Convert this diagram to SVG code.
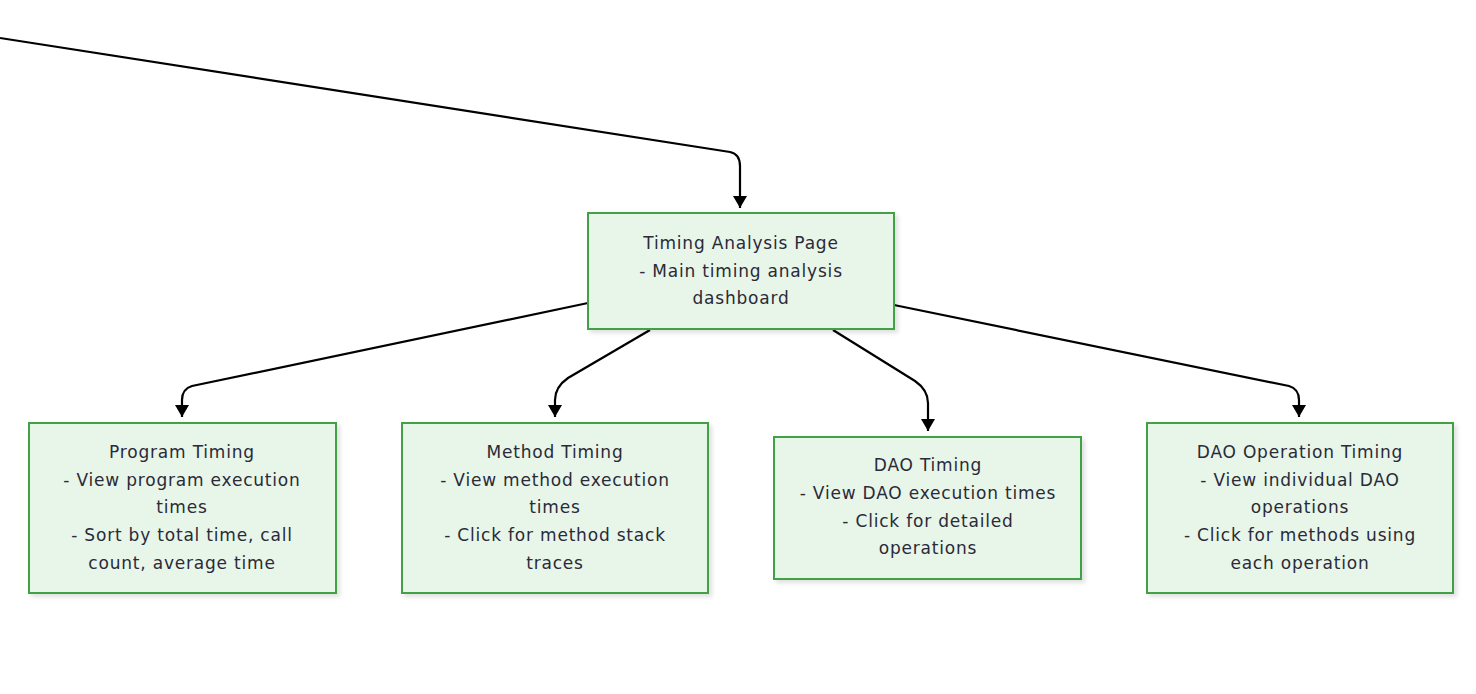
<svg xmlns="http://www.w3.org/2000/svg" width="1476" height="694" viewBox="0 0 1476 694">
<defs>
<style>
.box{fill:#e8f5e9;stroke:#43a047;stroke-width:2;filter:url(#sh)}
.t{font-family:"DejaVu Sans",sans-serif;font-size:17px;letter-spacing:0.8px;fill:#2a2a38;text-anchor:middle;dominant-baseline:central}
.e{fill:none;stroke:#000;stroke-width:2.2}
</style>
<filter id="sh" x="-10%" y="-10%" width="125%" height="130%">
<feDropShadow dx="3" dy="3" stdDeviation="2" flood-color="#000" flood-opacity="0.12"/>
</filter>
<marker id="ah" viewBox="0 0 12 14" refX="12" refY="7" markerWidth="12" markerHeight="14" markerUnits="userSpaceOnUse" orient="auto">
<path d="M0,0 L12,7 L0,14 z" fill="#000"/>
</marker>
</defs>
<rect width="1476" height="694" fill="#fff"/>
<g id="connectors">
<path class="e" marker-end="url(#ah)" d="M0,38 L730,152 Q740,154 740,166 L740,208"/>
<path class="e" marker-end="url(#ah)" d="M588,303 L192,386 Q182,389 182,400 L182,417"/>
<path class="e" marker-end="url(#ah)" d="M650,330 L568,378 Q555,387 555,400 L555,417"/>
<path class="e" marker-end="url(#ah)" d="M833,330 L915,381 Q928,390 928,403 L928,431"/>
<path class="e" marker-end="url(#ah)" d="M894,305 L1289,386 Q1299,389 1299,400 L1299,417"/>
</g>
<g id="main">
<rect class="box" x="588" y="213" width="306" height="116"/>
<text class="t" x="741" y="243">Timing Analysis Page</text>
<text class="t" x="741" y="271">- Main timing analysis</text>
<text class="t" x="741" y="298">dashboard</text>
</g>
<g id="program">
<rect class="box" x="29" y="423" width="307" height="170"/>
<text class="t" x="182" y="452">Program Timing</text>
<text class="t" x="182" y="480">- View program execution</text>
<text class="t" x="182" y="507">times</text>
<text class="t" x="182" y="535">- Sort by total time, call</text>
<text class="t" x="182" y="563">count, average time</text>
</g>
<g id="method">
<rect class="box" x="402" y="423" width="306" height="170"/>
<text class="t" x="555" y="452">Method Timing</text>
<text class="t" x="555" y="480">- View method execution</text>
<text class="t" x="555" y="507">times</text>
<text class="t" x="555" y="535">- Click for method stack</text>
<text class="t" x="555" y="563">traces</text>
</g>
<g id="dao">
<rect class="box" x="774" y="437" width="307" height="142"/>
<text class="t" x="928" y="465">DAO Timing</text>
<text class="t" x="928" y="493">- View DAO execution times</text>
<text class="t" x="928" y="521">- Click for detailed</text>
<text class="t" x="928" y="548">operations</text>
</g>
<g id="daoop">
<rect class="box" x="1147" y="423" width="306" height="170"/>
<text class="t" x="1300" y="452">DAO Operation Timing</text>
<text class="t" x="1300" y="480">- View individual DAO</text>
<text class="t" x="1300" y="507">operations</text>
<text class="t" x="1300" y="535">- Click for methods using</text>
<text class="t" x="1300" y="563">each operation</text>
</g>
</svg>
